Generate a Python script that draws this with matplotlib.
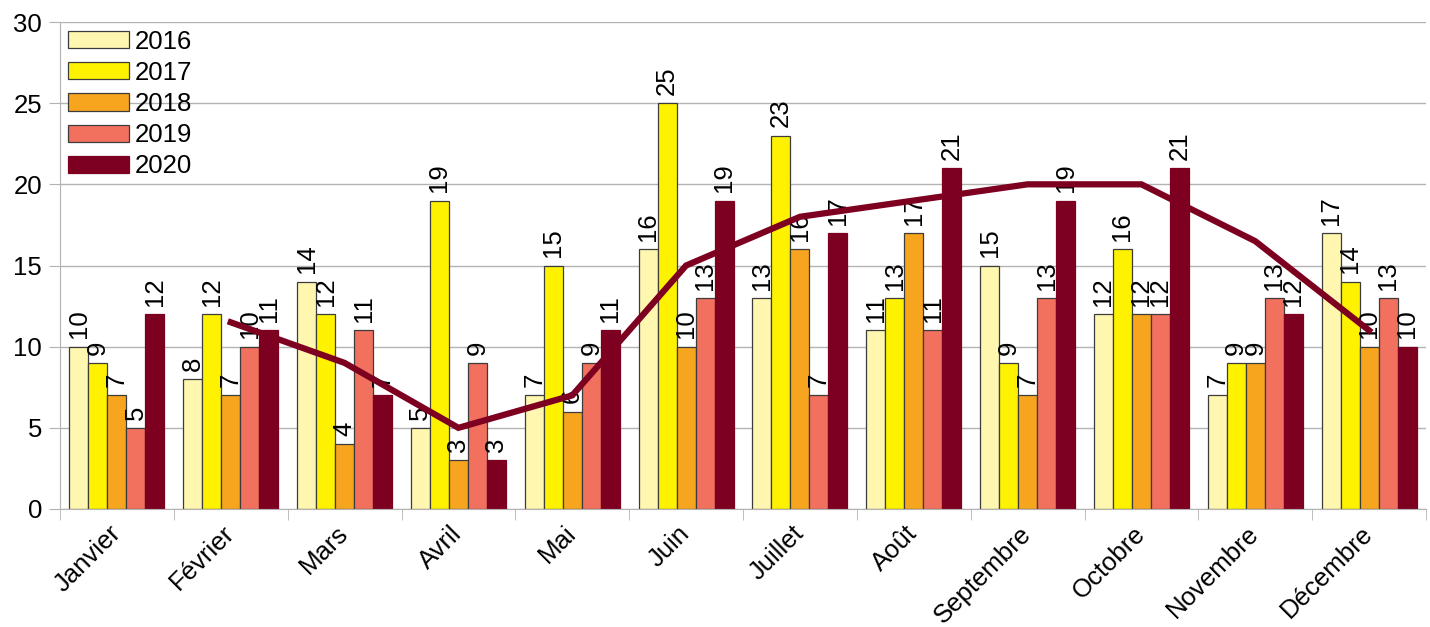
import numpy as np
import matplotlib.pyplot as plt

plt.rcParams['font.family'] = ['Liberation Sans', 'DejaVu Sans']

months = ["Janvier", "Février", "Mars", "Avril", "Mai", "Juin", "Juillet",
          "Août", "Septembre", "Octobre", "Novembre", "Décembre"]
years = ["2016", "2017", "2018", "2019", "2020"]

v2016 = [10, 8, 14, 5, 7, 16, 13, 11, 15, 12, 7, 17]
v2017 = [9, 12, 12, 19, 15, 25, 23, 13, 9, 16, 9, 14]
v2018 = [7, 7, 4, 3, 6, 10, 16, 17, 7, 12, 9, 10]
v2019 = [5, 10, 11, 9, 9, 13, 7, 11, 13, 12, 13, 13]
v2020 = [12, 11, 7, 3, 11, 19, 17, 21, 19, 21, 12, 10]

# trend line for 2020 (starts at Février)
trend = [11.5, 9, 5, 7, 15, 18, 19, 20, 20, 16.5, 11]

colors = ["#FFF6B0", "#FFF200", "#F7A51F", "#F2705E", "#7E0021"]
edges = ["#3c3c3c", "#3c3c3c", "#3c3c3c", "#3c3c3c", "#7E0021"]

series = [v2016, v2017, v2018, v2019, v2020]

FS = 18.5

fig = plt.figure(figsize=(14.3, 6.27), dpi=100)
ax = fig.add_axes([60 / 1430, 1 - 509 / 627, 1366 / 1430, 487 / 627])

x = np.arange(len(months))
w = 0.167
for i, (vals, c, ec, name) in enumerate(zip(series, colors, edges, years)):
    bars = ax.bar(x + (i - 2) * w, vals, w, color=c, edgecolor=ec,
                  linewidth=0.9, label=name, zorder=2)
    ax.bar_label(bars, labels=[str(v) for v in vals], rotation=90,
                 padding=6, fontsize=FS, zorder=3)

ax.plot(x[1:], trend, color="#7E0021", linewidth=4.5, zorder=4,
        solid_joinstyle='miter')

ax.set_xlim(-0.5, 11.5)
ax.set_ylim(0, 30)
ax.set_yticks(range(0, 31, 5))
ax.yaxis.grid(True, color="#b3b3b3", linewidth=1)
ax.set_axisbelow(True)

ax.set_xticks(x)
ax.set_xticklabels(months, rotation=45, ha='right', va='center',
                   rotation_mode='anchor', fontsize=FS)
ax.set_xticks(np.arange(-0.5, 12, 1), minor=True)
ax.tick_params(axis='x', which='major', length=0, pad=15)
ax.tick_params(axis='x', which='minor', length=8, color="#b3b3b3")
ax.tick_params(axis='y', length=8, color="#b3b3b3", labelsize=FS, pad=5)

for s in ["top", "right"]:
    ax.spines[s].set_visible(False)
for s in ["left", "bottom"]:
    ax.spines[s].set_color("#b3b3b3")

ax.legend(loc='upper left', frameon=False, fontsize=FS,
          handlelength=2.4, handleheight=0.65, labelspacing=0.28,
          handletextpad=0.2, borderaxespad=0.1, borderpad=0.2)

fig.savefig("out.png", dpi=100)
